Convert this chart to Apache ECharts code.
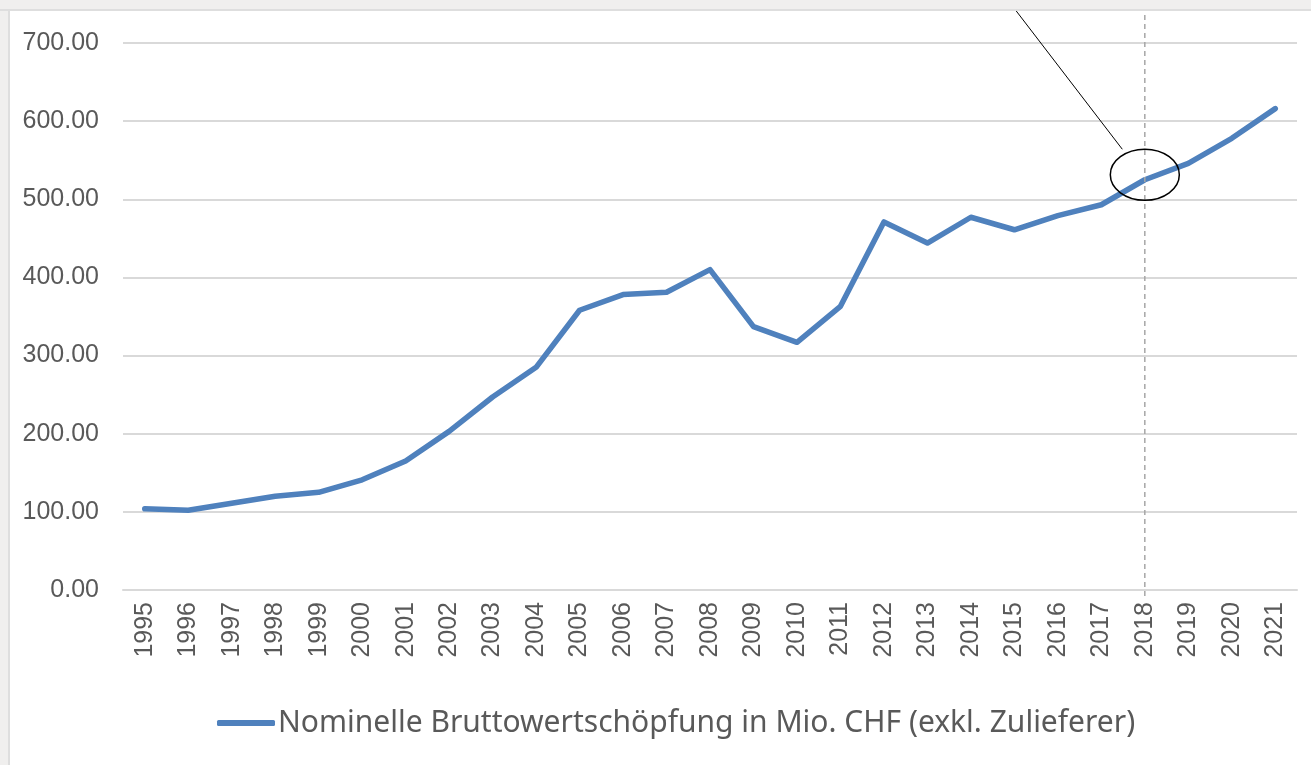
<!DOCTYPE html>
<html><head><meta charset="utf-8">
<script src="https://cdn.jsdelivr.net/npm/echarts@6/dist/echarts.min.js"></script>
<style>html,body{margin:0;padding:0;background:#fff}#c{width:1311px;height:765px}</style>
</head><body><div id="c"></div>
<script>
const years = ['1995','1996','1997','1998','1999','2000','2001','2002','2003','2004','2005','2006','2007','2008','2009','2010','2011','2012','2013','2014','2015','2016','2017','2018','2019','2020','2021'];
const values = [104,102,111,120,125,141,165,203,247,285,358,378,381,410,337,317,363,471,444,477,461,479,493,525,546,578,616];
const seriesName = 'Nominelle Bruttowertschöpfung in Mio. CHF (exkl. Zulieferer)';
const markYear = '2018';
const font = 'Liberation Sans';
const txt = '#595959';
const chart = echarts.init(document.getElementById('c'), null, {renderer:'canvas'});
chart.setOption({
  animation:false,
  grid:{left:123,right:14,top:43,bottom:175,containLabel:false},
  xAxis:{type:'category',data:years,boundaryGap:true,
    axisLine:{show:true,lineStyle:{color:'#d9d9d9',width:2}},axisTick:{show:false},
    axisLabel:{rotate:90,margin:12,color:txt,fontFamily:font,fontSize:25}},
  yAxis:{type:'value',min:0,max:700,interval:100,
    axisLine:{show:false},axisTick:{show:false},
    splitLine:{lineStyle:{color:'#d9d9d9',width:2}},
    axisLabel:{margin:24,color:txt,fontFamily:font,fontSize:25,formatter:v=>v.toFixed(2)}},
  legend:{left:212,top:703,itemWidth:58,itemHeight:6,itemGap:10,icon:'roundRect',
    textStyle:{color:txt,fontFamily:'Noto Sans',fontSize:30,padding:[0,0,0,-2]},data:[seriesName]},
  series:[{name:seriesName,type:'line',data:values,showSymbol:false,symbol:'none',
    lineStyle:{color:'#4f81bd',width:5.5,cap:'round',join:'round'},itemStyle:{color:'#4f81bd'}}]
});
const idx = years.indexOf(markYear);
const p = chart.convertToPixel({xAxisIndex:0,yAxisIndex:0},[idx, values[idx]]);
const cx = p[0], cy = p[1]-5;
chart.setOption({graphic:[
  {type:'rect',shape:{x:0,y:0,width:1311,height:10},style:{fill:'#f0efee'},silent:true,z:100},
  {type:'rect',shape:{x:0,y:9,width:1311,height:2},style:{fill:'#dedede'},silent:true,z:101},
  {type:'rect',shape:{x:0,y:0,width:9,height:765},style:{fill:'#f0efee'},silent:true,z:100},
  {type:'rect',shape:{x:8,y:9,width:2,height:756},style:{fill:'#dedede'},silent:true,z:101},
  {type:'line',shape:{x1:cx,y1:15,x2:cx,y2:600},style:{stroke:'#a6a6a6',lineWidth:1.5,lineDash:[5,4]},silent:true,z:50},
  {type:'ellipse',shape:{cx:cx,cy:cy,rx:34.5,ry:25.5},style:{fill:null,stroke:'#000',lineWidth:1.5},silent:true,z:60},
  {type:'line',shape:{x1:cx-22.5,y1:cy-25.5,x2:cx-137,y2:0},style:{stroke:'#000',lineWidth:1},silent:true,z:60}
]});
</script></body></html>
